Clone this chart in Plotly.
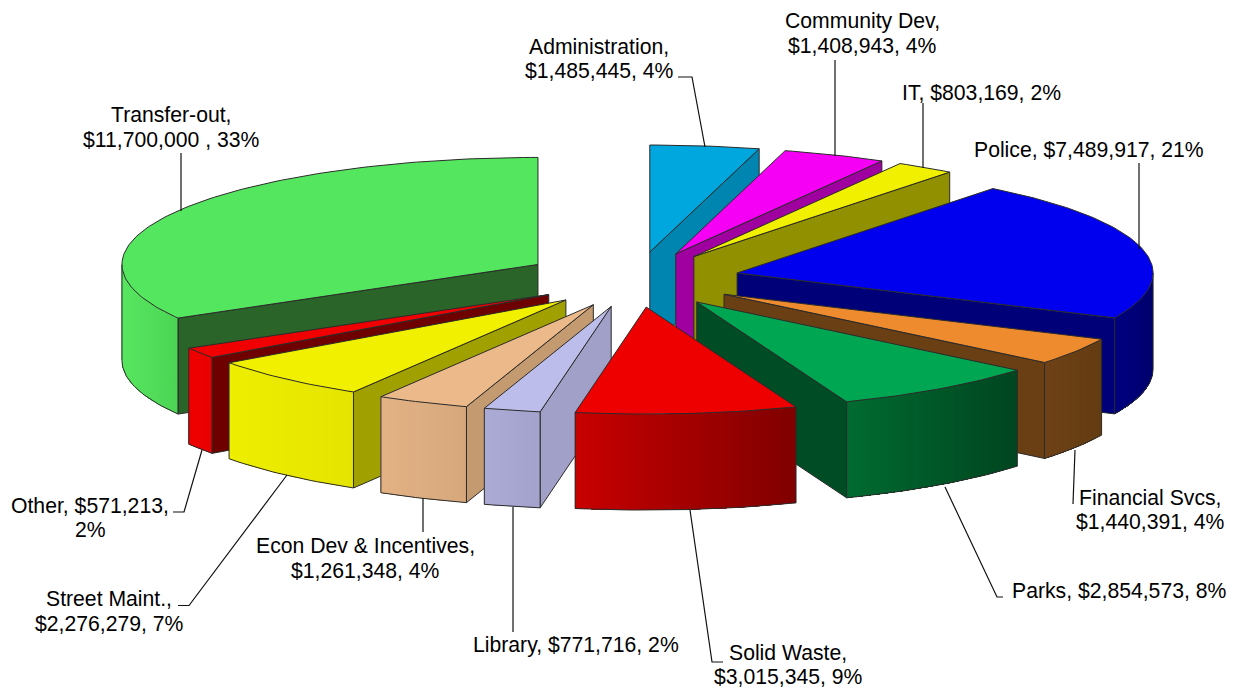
import math
import plotly.graph_objects as go

names = ["Administration", "Community Dev", "IT", "Police", "Financial Svcs", "Parks",
         "Solid Waste", "Library", "Econ Dev & Incentives", "Street Maint.", "Other", "Transfer-out"]
values = [1485445, 1408943, 803169, 7489917, 1440391, 2854573,
          3015345, 771716, 1261348, 2276279, 571213, 11700000]
label_texts = [["Administration,", "$1,485,445, 4%"], ["Community Dev,", "$1,408,943, 4%"], ["IT, $803,169, 2%"],
               ["Police, $7,489,917, 21%"], ["Financial Svcs,", "$1,440,391, 4%"], ["Parks, $2,854,573, 8%"],
               ["Solid Waste,", "$3,015,345, 9%"], ["Library, $771,716, 2%"],
               ["Econ Dev & Incentives,", "$1,261,348, 4%"], ["Street Maint.,", "$2,276,279, 7%"],
               ["Other, $571,213,", "2%"], ["Transfer-out,", "$11,700,000 , 33%"]]

top_colors = ["#00A6DE", "#F500F5", "#F0F000", "#0000EE", "#ED8B2E", "#00A651",
              "#EE0000", "#BDBDEB", "#EBB98A", "#F0F000", "#F00000", "#55E65F"]
cut_colors = ["#0085B0", "#A000A0", "#909000", "#000078", "#6B3F14", "#004D25",
              "#900000", "#A0A0C8", "#C49A70", "#A0A000", "#6E0000", "#2A6428"]
wall_left = ["#0085B0", "#A000A0", "#909000", "#000080", "#6E4216", "#006B30",
             "#C80000", "#ABABD6", "#E2B285", "#EEEE00", "#F00000", "#58E660"]
wall_right = ["#0085B0", "#A000A0", "#909000", "#00006E", "#643C12", "#004520",
              "#800000", "#A2A2CC", "#D6A87C", "#E4E400", "#E80000", "#4CD455"]
explode_factor = [1, 1, 1, 1, 1, 1, 1, 1, 1, 1, 1, 1.088]
draw_order = [0, 1, 2, 3, 4, 5, 11, 10, 9, 8, 7, 6]

CX, CY = 636.0, 279.5
A, B = 416.0, 107.0
EX, EY = 104.0, 27.7
H = 96.0
EDGE = "#2b2b2b"
FONT_PX = 21.2
LINE_PX = 24.5

label_pos = [(599, 58.5), (862, 33), (981, 92), (1089, 149), (1150, 509.5), (1119, 590.5),
             (788, 664.5), (576, 645), (365, 558), (109, 611), (90, 517.5), (171, 127)]
leaders = [[(678, 77), (692, 77), (705, 147)], [(835, 60), (835, 156)], [(923, 103), (923, 168)],
           [(1139, 163), (1139, 249)], [(1073, 504), (1075, 450)],
           [(1003, 597), (997, 597), (945, 487)], [(723, 662), (712, 662), (690, 510)],
           [(513, 632), (513, 507)], [(423, 532), (423, 498)], [(178, 605.5), (189, 605.5), (287, 475)],
           [(173, 512), (184, 512), (202, 450)], [(181, 153), (181, 211)]]


def hex_rgb(c):
    return tuple(int(c[i:i + 2], 16) for i in (1, 3, 5))


def mix(c1, c2, t):
    a, b = hex_rgb(c1), hex_rgb(c2)
    return "rgb(%d,%d,%d)" % tuple(round(a[i] + (b[i] - a[i]) * t) for i in range(3))


def pt(ox, oy, deg, z=0.0):
    r = math.radians(deg)
    return ox + A * math.sin(r), oy - B * math.cos(r) + z


fig = go.Figure()


def poly(xy, fill, line=EDGE, width=1.0):
    fig.add_trace(go.Scatter(x=[p[0] for p in xy], y=[p[1] for p in xy], mode="lines", fill="toself",
                             fillcolor=fill, line=dict(color=line, width=width),
                             hoverinfo="skip", showlegend=False))


def path(xy, color=EDGE, width=1.0):
    fig.add_trace(go.Scatter(x=[p[0] for p in xy], y=[p[1] for p in xy], mode="lines",
                             line=dict(color=color, width=width), hoverinfo="skip", showlegend=False))


total = sum(values)
starts, ends = [], []
acc = 0.0
for v in values:
    starts.append(acc / total * 360)
    acc += v
    ends.append(acc / total * 360)

for i in draw_order:
    s, e = starts[i], ends[i]
    mid = math.radians((s + e) / 2)
    f = explode_factor[i]
    ox = CX + EX * f * math.sin(mid)
    oy = CY - EY * f * math.cos(mid)
    # radial cut faces
    if math.sin(math.radians(e)) > 0:
        p = pt(ox, oy, e)
        poly([(ox, oy), p, (p[0], p[1] + H), (ox, oy + H), (ox, oy)], cut_colors[i])
    if math.sin(math.radians(s)) < 0:
        p = pt(ox, oy, s)
        poly([(ox, oy), p, (p[0], p[1] + H), (ox, oy + H), (ox, oy)], cut_colors[i])
    # outer wall: nested strips, so no seams show between neighbouring shades
    w0, w1 = max(s, 90.0), min(e, 270.0)
    if w1 > w0:
        n = max(2, int(w1 - w0))
        angs = [w0 + (w1 - w0) * k / n for k in range(n + 1)]
        arc = [pt(ox, oy, a) for a in angs]
        xl = min(p[0] for p in arc)
        xr = max(p[0] for p in arc)
        for k in range(n):
            t = ((arc[k][0] + arc[k + 1][0]) / 2 - xl) / max(1e-6, xr - xl)
            col = mix(wall_left[i], wall_right[i], t)
            tail = arc[k:]
            ring = tail + [(x, y + H) for x, y in reversed(tail)] + [tail[0]]
            fig.add_trace(go.Scatter(x=[p[0] for p in ring], y=[p[1] for p in ring], mode="none",
                                     fill="toself", fillcolor=col, hoverinfo="skip", showlegend=False))
        path([(x, y + H) for x, y in arc])
        path([arc[0], (arc[0][0], arc[0][1] + H)])
        path([arc[-1], (arc[-1][0], arc[-1][1] + H)])
    # top face
    n = max(4, int(e - s))
    arc = [pt(ox, oy, s + (e - s) * k / n) for k in range(n + 1)]
    poly([(ox, oy)] + arc + [(ox, oy)], top_colors[i])

for seg in leaders:
    path(seg, color="#111111", width=1.2)

annotations = []
for lines, (x, y) in zip(label_texts, label_pos):
    for k, line in enumerate(lines):
        annotations.append(dict(x=x, y=y + (k - (len(lines) - 1) / 2) * LINE_PX, text=line, showarrow=False,
                                xanchor="center", yanchor="middle", align="center", borderpad=0,
                                font=dict(family="Liberation Sans, Arial", size=FONT_PX, color="black")))

fig.update_layout(width=1234, height=689, autosize=False, margin=dict(l=0, r=0, t=0, b=0),
                  paper_bgcolor="white", plot_bgcolor="white", showlegend=False, annotations=annotations,
                  xaxis=dict(range=[0, 1234], visible=False, fixedrange=True),
                  yaxis=dict(range=[689, 0], visible=False, fixedrange=True))
fig.write_html("out.html", config={"displayModeBar": False},
               post_script="document.body.style.margin='0';document.documentElement.style.overflow='hidden';")
